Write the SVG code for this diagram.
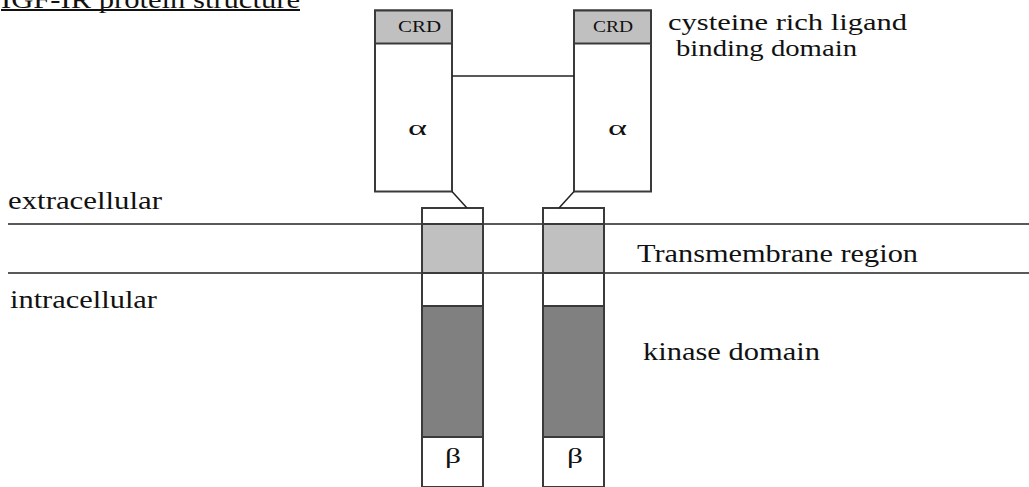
<svg xmlns="http://www.w3.org/2000/svg" width="1029" height="487" viewBox="0 0 1029 487">
<style>
text{font-family:"Liberation Serif","Times New Roman",serif;fill:#111}
.lbl{font-size:25px}
.lbl2{font-size:23px}
.sm{font-size:16px}
.greek{font-size:22px}
.box{fill:#fff;stroke:#3a3a3a;stroke-width:2}
.crd{fill:#c0c0c0;stroke:#3a3a3a;stroke-width:2}
.tm{fill:#c0c0c0;stroke:#3a3a3a;stroke-width:2}
.kin{fill:#808080;stroke:#3a3a3a;stroke-width:2}
.ln{stroke:#222;stroke-width:1.5;fill:none}
</style>
<rect width="1029" height="487" fill="#fff"/>
<g id="title">
<text class="lbl" x="1" y="8" textLength="299" lengthAdjust="spacingAndGlyphs">IGF-IR protein structure</text>
<line x1="1" y1="10" x2="300" y2="10" stroke="#111" stroke-width="2"/>
</g>
<g id="membrane">
<line class="ln" x1="8" y1="224" x2="1029" y2="224"/>
<line class="ln" x1="8" y1="273" x2="1029" y2="273"/>
<text class="lbl" x="8" y="209" textLength="154" lengthAdjust="spacingAndGlyphs">extracellular</text>
<text class="lbl" x="10" y="308" textLength="147" lengthAdjust="spacingAndGlyphs">intracellular</text>
</g>
<g id="alpha-left">
<rect class="box" x="375" y="10.5" width="77" height="181"/>
<rect class="crd" x="375" y="10.5" width="77" height="33"/>
<text class="sm" x="398" y="32" textLength="43" lengthAdjust="spacingAndGlyphs">CRD</text>
<text class="greek" x="408" y="135" textLength="19" lengthAdjust="spacingAndGlyphs">α</text>
</g>
<g id="alpha-right">
<rect class="box" x="574" y="10.5" width="77" height="181"/>
<rect class="crd" x="574" y="10.5" width="77" height="33"/>
<text class="sm" x="593" y="32" textLength="40" lengthAdjust="spacingAndGlyphs">CRD</text>
<text class="greek" x="608" y="135" textLength="19" lengthAdjust="spacingAndGlyphs">α</text>
</g>
<g id="beta-left">
<rect class="box" x="422" y="208" width="61" height="279"/>
<rect class="tm" x="422" y="224" width="61" height="49"/>
<rect class="kin" x="422" y="306" width="61" height="131"/>
<text class="greek" x="445" y="463" textLength="16" lengthAdjust="spacingAndGlyphs">β</text>
</g>
<g id="beta-right">
<rect class="box" x="543" y="208" width="61" height="279"/>
<rect class="tm" x="543" y="224" width="61" height="49"/>
<rect class="kin" x="543" y="306" width="61" height="131"/>
<text class="greek" x="567" y="463" textLength="16" lengthAdjust="spacingAndGlyphs">β</text>
</g>
<g id="connectors">
<line class="ln" x1="452" y1="76" x2="574" y2="76"/>
<line class="ln" x1="452" y1="191.5" x2="467" y2="208"/>
<line class="ln" x1="574" y1="191.5" x2="559" y2="208"/>
</g>
<g id="labels">
<text class="lbl2" x="668" y="30" textLength="239" lengthAdjust="spacingAndGlyphs">cysteine rich ligand</text>
<text class="lbl2" x="676" y="56" textLength="181" lengthAdjust="spacingAndGlyphs">binding domain</text>
<text class="lbl" x="637" y="262" textLength="281" lengthAdjust="spacingAndGlyphs">Transmembrane region</text>
<text class="lbl" x="643" y="360" textLength="177" lengthAdjust="spacingAndGlyphs">kinase domain</text>
</g>
</svg>
